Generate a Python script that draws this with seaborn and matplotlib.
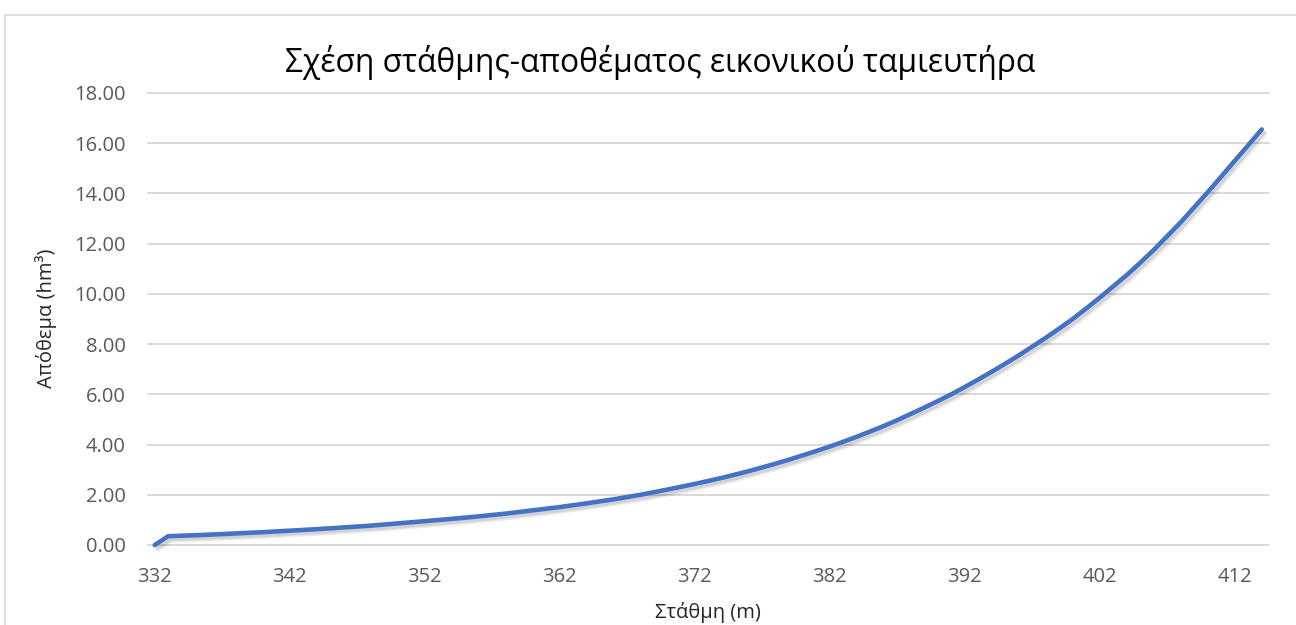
import matplotlib
matplotlib.use("Agg")
import matplotlib.pyplot as plt
import matplotlib.patheffects as pe
from matplotlib.patches import Rectangle
from matplotlib.ticker import FormatStrFormatter, MultipleLocator
import seaborn as sns
import pandas as pd

# Reservoir level (m) and corresponding storage (hm³)
levels = [332, 333, 334, 336, 338, 340, 342, 344, 346, 348, 350, 352, 354, 356,
          358, 360, 362, 364, 366, 368, 370, 372, 374, 376, 378, 379, 380, 381,
          382, 383, 384, 385, 386, 387, 388, 389, 390, 391, 392, 393, 394, 395,
          396, 397, 398, 399, 400, 401, 402, 403, 404, 405, 406, 407, 408, 409,
          410, 411, 412, 413, 414]
storage = [0.00, 0.35, 0.37, 0.41, 0.46, 0.51, 0.57, 0.63, 0.70, 0.77, 0.86, 0.95,
           1.04, 1.14, 1.25, 1.38, 1.51, 1.66, 1.82, 2.00, 2.21, 2.43, 2.67, 2.94,
           3.24, 3.40, 3.57, 3.74, 3.92, 4.11, 4.31, 4.52, 4.74, 4.97, 5.22, 5.47,
           5.73, 6.00, 6.29, 6.59, 6.90, 7.22, 7.55, 7.90, 8.25, 8.62, 9.00, 9.42,
           9.85, 10.30, 10.75, 11.24, 11.75, 12.30, 12.85, 13.45, 14.05, 14.67,
           15.30, 15.92, 16.55]
x_ticks = [332, 342, 352, 362, 372, 382, 392, 402, 412]

title = "Σχέση στάθμης-αποθέματος εικονικού ταμιευτήρα"
x_label = "Στάθμη (m)"
y_label = "Απόθεμα (hm³)"

df = pd.DataFrame({"level": levels, "storage": storage})

sns.set_theme(style="white")
plt.rcParams["font.family"] = ["Open Sans", "DejaVu Sans"]

fig = plt.figure(figsize=(12.96, 6.25), dpi=100)
ax = fig.add_axes([148 / 1296, 1 - 545 / 625, 1120.5 / 1296, 452 / 625])

line_color = "#4472C4"
sns.lineplot(data=df, x="level", y="storage", ax=ax, color=line_color,
             linewidth=3.3, clip_on=False, zorder=5)
ln = ax.lines[0]
ln.set_solid_capstyle("round")
ln.set_solid_joinstyle("round")
ln.set_path_effects([
    pe.SimpleLineShadow(offset=(2.5, -3.0), shadow_color="#000000", alpha=0.08),
    pe.SimpleLineShadow(offset=(1.5, -2.0), shadow_color="#000000", alpha=0.10),
    pe.Normal(),
])

ax.set_xlim(331.5, 414.5)
ax.set_ylim(0, 18)
ax.set_xticks(x_ticks)
ax.yaxis.set_major_locator(MultipleLocator(2))
ax.yaxis.set_major_formatter(FormatStrFormatter("%.2f"))

ax.grid(axis="y", color="#d9d9d9", linewidth=1.4)
ax.grid(axis="x", visible=False)
for g in ax.get_ygridlines():
    g.set_clip_on(False)
for s in ax.spines.values():
    s.set_visible(False)

ax.tick_params(axis="both", length=0, labelsize=14.5, labelcolor="#595959")
ax.tick_params(axis="x", pad=16)
ax.tick_params(axis="y", pad=16)

ax.set_xlabel(x_label, fontsize=14.5, color="#262626")
ax.set_ylabel(y_label, fontsize=14.5, color="#262626")
ax.xaxis.set_label_coords(0.5, -0.126)
ax.yaxis.set_label_coords(-0.0812, 0.502)

fig.text(660 / 1296, 1 - 62 / 625, title, ha="center", va="center",
         fontsize=22.9, color="#000000")

# chart-area frame
fig.patches.append(Rectangle((4.5 / 1296, -0.2), 1.2, 1 - 14.5 / 625 + 0.2,
                             transform=fig.transFigure, fill=False,
                             edgecolor="#d9d9d9", linewidth=1.2))

fig.savefig("out.png", dpi=100, facecolor="white")
